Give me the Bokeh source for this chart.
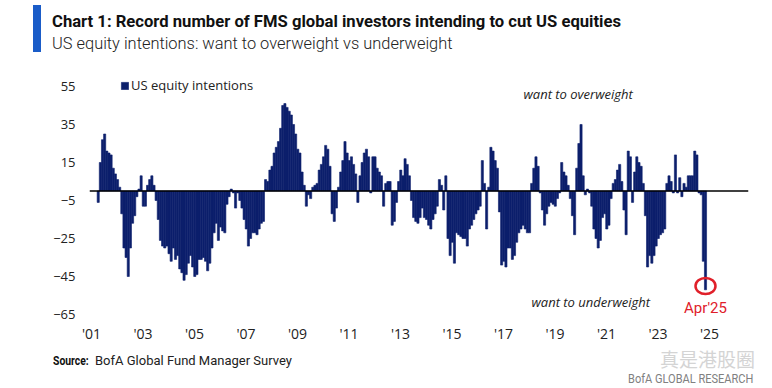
from bokeh.plotting import figure
from bokeh.layouts import column
from bokeh.models import (FixedTicker, Span, Label, Legend, LegendItem, Div,
                          ColumnDataSource, CustomJSTickFormatter)
from bokeh.embed import file_html
from bokeh.resources import INLINE

# ---------------- data (monthly, net % want overweight minus underweight) ----------------
start_year, start_month = 2001, 9          # first observation: Sep 2001, last: Apr 2025
vals_2001_2005 = [-6, 15, 27, 30, 21, 20, 19, 12, 9, 6, 2, -12, -30, -35, -45, -30, -17, -13,
                  -3, 1, 8, -8, -8, 3, 6, 8, 3, -5, -15, -26, -29, -30, -29, -33, -37, -30,
                  -36, -34, -41, -43, -47, -44, -38, -34, -40]
vals_2005_2009 = [-45, -44, -36, -36, -35, -37, -42, -38, -30, -22, -17, -26, -19, -21, -22,
                  -7, -3, 1, -1, -9, -1, -5, -9, -15, -20, -29, -25, -22, -22, -23, -20, -17,
                  -16, 6, 5, 11, 13, 20, 23, 26, 33, 45, 46]
vals_2009_2013 = [44, 42, 40, 35, 30, 22, 20, 10, 3, -8, -2, -4, 2, 3, 4, 11, 14, 18, 24, 22,
                  13, -12, -16, -9, 2, 10, 16, 26, 20, 16, 18, 14, 9, -6, 8, 15, 20, 22, 18,
                  -1, 18, 18, 12, 10, 8, -8]
vals_2013_2017 = [4, 5, 5, -18, -16, -6, 5, 11, 8, 17, 14, 8, -5, -14, -16, -17, -14, -9,
                  -14, -15, -18, -20, -15, -12, -8, 6, 3, -10, 8, -25, -34, -27, -38, -22,
                  -23, -24, -25, -25, -29, -20, -18, -15, -12, -10, -8, 16, 4, -20, 2, 23, 21]
vals_2017_2021 = [16, 12, -11, -39, -37, -40, -30, -30, -36, -34, -27, -22, -20, -18, -20,
                  -22, -22, 4, 12, 18, 13, -1, -10, -18, -12, -8, -6, -7, -8, -4, -1, 15, 10,
                  8, 3, -4, -13, -23, 12, 25, 35, 8, -2]
vals_2021_2025 = [1, -1, -8, -20, -25, -30, -26, -14, -12, -20, -18, -4, 4, 6, 11, 14, 5,
                  -10, -23, 21, 18, -6, 10, 18, 15, 13, 4, -13, -40, -34, -38, -34, -29, -25,
                  -23, -22, -20, 4, 8, 5, -1, 19, -1, 7, -3, 4, 2, 8, 8, 8, 21, 19, -1, -2,
                  -37, -52]
values = (vals_2001_2005 + vals_2005_2009 + vals_2009_2013 + vals_2013_2017
          + vals_2017_2021 + vals_2021_2025)

tick_years = [2001, 2003, 2005, 2007, 2009, 2011, 2013, 2015, 2017, 2019, 2021, 2023, 2025]
y_ticks = [55, 35, 15, -5, -25, -45, -65]
series_name = "US equity intentions"
last_label = "Apr'25"
title_text = "Chart 1: Record number of FMS global investors intending to cut US equities"
subtitle_text = "US equity intentions: want to overweight vs underweight"

x = [start_year + (start_month - 1 + i) / 12.0 for i in range(len(values))]
src = ColumnDataSource(dict(x=x, v=values))

NAVY = "#0c1f6b"
RED = "#e0202a"

# ---------------- header ----------------
header = Div(width=772, height=60, margin=0, text=f"""
<div style="position:relative;width:772px;height:60px;overflow:hidden;font-family:Roboto,'Open Sans',sans-serif;">
  <div style="position:absolute;left:33px;top:5px;width:8px;height:47px;background:#1a5cc8;"></div>
  <div style="position:absolute;left:52px;top:11px;white-space:nowrap;font-weight:bold;font-size:17px;line-height:20px;color:#111;transform:scaleX(0.978);transform-origin:0 0;">{title_text}</div>
  <div style="position:absolute;left:52px;top:33px;white-space:nowrap;font-weight:300;font-size:17px;line-height:20px;color:#222;transform:scaleX(0.965);transform-origin:0 0;">{subtitle_text}</div>
</div>""")

# ---------------- chart ----------------
p = figure(width=772, height=285, output_backend="svg", toolbar_location=None,
           x_range=(2001.328, 2026.92), y_range=(-67.1, 60.26),
           min_border_left=89, min_border_right=24, min_border_top=16, min_border_bottom=27)
p.outline_line_color = None
p.grid.visible = False

bars = p.vbar(x="x", top="v", bottom=0, width=1 / 12.0, source=src,
              fill_color=NAVY, line_color=NAVY, line_width=0.6)

p.add_layout(Span(location=0, dimension="width", line_color="black", line_width=1.5))

p.yaxis.ticker = FixedTicker(ticks=y_ticks)
p.xaxis.ticker = FixedTicker(ticks=[yr + 0.405 for yr in tick_years])
p.xaxis.formatter = CustomJSTickFormatter(code="return \"'\" + String(Math.floor(tick)).slice(2);")
for ax in (p.xaxis, p.yaxis):
    ax.axis_line_color = None
    ax.major_tick_line_color = None
    ax.minor_tick_line_color = None
    ax.major_tick_out = 0
    ax.major_tick_in = 0
    ax.minor_tick_out = 0
    ax.major_label_text_font = "Open Sans"
    ax.major_label_text_color = "#222222"
p.yaxis.major_label_text_font_size = "13px"
p.yaxis.major_label_standoff = 14
p.xaxis.major_label_text_font_size = "14px"
p.xaxis.major_label_standoff = 5

legend = Legend(items=[LegendItem(label=series_name, renderers=[bars])],
                location=(31, 224), border_line_color=None, background_fill_alpha=0,
                padding=0, margin=0, spacing=0, glyph_width=9, glyph_height=9,
                label_standoff=2, label_height=12, label_text_font="Open Sans",
                label_text_font_size="13px", label_text_color="#222222")
p.add_layout(legend)

p.add_layout(Label(x=434, y=225, x_units="screen", y_units="screen", text="want to overweight",
                   text_font="Open Sans", text_font_style="italic", text_font_size="13px",
                   text_baseline="middle", text_color="#222222"))
p.add_layout(Label(x=442, y=17, x_units="screen", y_units="screen", text="want to underweight",
                   text_font="Open Sans", text_font_style="italic", text_font_size="13px",
                   text_baseline="middle", text_color="#222222"))

p.ellipse(x=[x[-1]], y=[values[-1] + 2], width=20, height=16, width_units="screen",
          height_units="screen", fill_color=None, line_color=RED, line_width=2.5)
p.add_layout(Label(x=x[-1], y=11, x_units="data", y_units="screen", text=last_label,
                   text_font="Roboto", text_font_size="15px",
                   text_align="center", text_baseline="middle", text_color=RED))

# ---------------- footer ----------------
footer = Div(width=772, height=42, margin=0, text="""
<div style="position:relative;width:772px;height:42px;overflow:hidden;font-family:Roboto,'Open Sans',sans-serif;">
  <div style="position:absolute;left:53px;top:8px;white-space:nowrap;font-weight:bold;font-size:13px;line-height:16px;color:#111;transform:scaleX(0.8);transform-origin:0 0;">Source:</div>
  <div style="position:absolute;left:95px;top:8px;white-space:nowrap;font-size:13px;line-height:16px;color:#222;">BofA Global Fund Manager Survey</div>
  <div style="position:absolute;left:660px;top:2px;white-space:nowrap;font-family:'Noto Sans CJK SC';font-size:19px;line-height:24px;color:#d4d4d4;">真是港股圈</div>
  <div style="position:absolute;left:628px;top:27px;white-space:nowrap;font-size:12px;line-height:14px;color:#808080;transform:scaleX(0.92);transform-origin:0 0;">BofA GLOBAL RESEARCH</div>
</div>""")

layout = column(header, p, footer, spacing=0)
open("out.html", "w").write(file_html(layout, INLINE))
